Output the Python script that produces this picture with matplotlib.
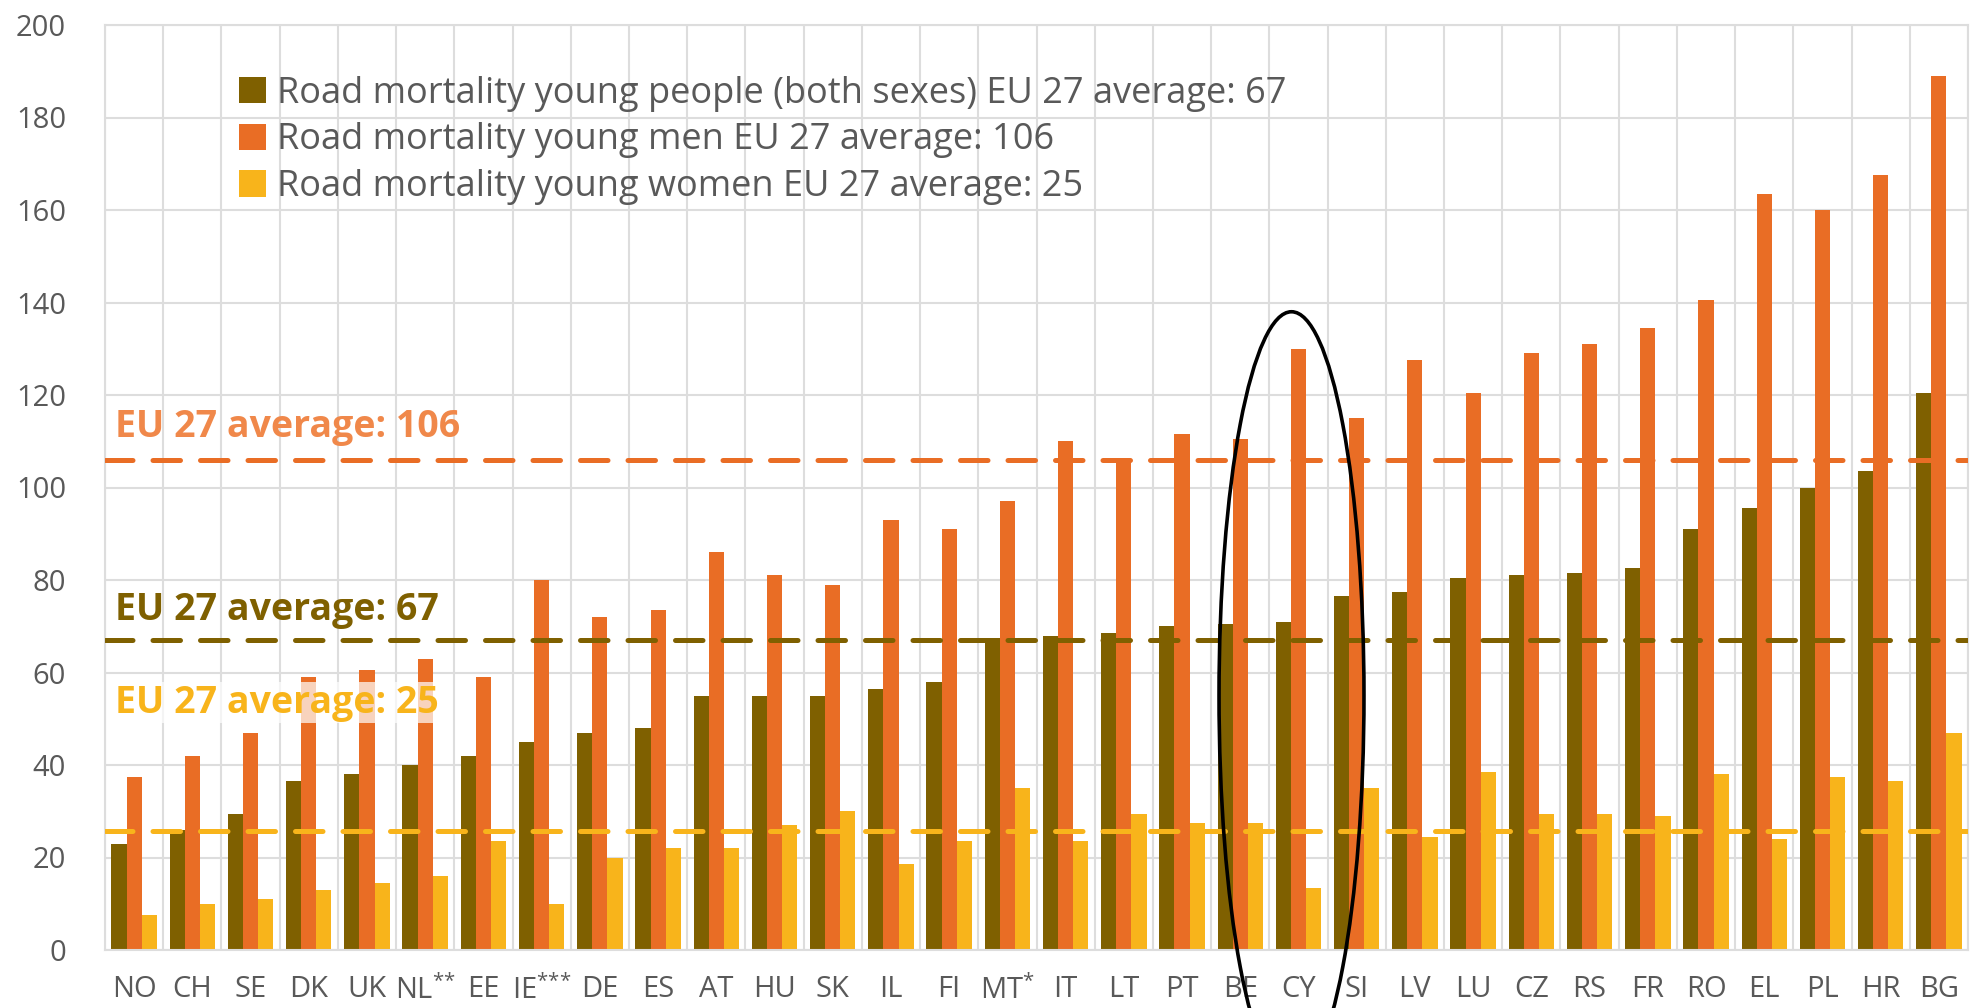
import matplotlib.pyplot as plt
from matplotlib.patches import Ellipse
import numpy as np

countries = ["NO", "CH", "SE", "DK", "UK", "NL$^{{*}{*}}$", "EE", "IE$^{{*}{*}{*}}$", "DE", "ES", "AT", "HU", "SK", "IL",
             "FI", "MT$^{{*}}$", "IT", "LT", "PT", "BE", "CY", "SI", "LV", "LU", "CZ", "RS", "FR", "RO", "EL",
             "PL", "HR", "BG"]
both_sexes = [23, 26, 29.5, 36.5, 38, 40, 42, 45, 47, 48, 55, 55, 55, 56.5, 58, 67.5, 68, 68.5, 70,
              70.5, 71, 76.5, 77.5, 80.5, 81, 81.5, 82.5, 91, 95.5, 100, 103.5, 120.5]
men = [37.5, 42, 47, 59, 60.5, 63, 59, 80, 72, 73.5, 86, 81, 79, 93, 91, 97, 110, 106, 111.5,
       110.5, 130, 115, 127.5, 120.5, 129, 131, 134.5, 140.5, 163.5, 160, 167.5, 189]
women = [7.5, 10, 11, 13, 14.5, 16, 23.5, 10, 20, 22, 22, 27, 30, 18.5, 23.5, 35, 23.5, 29.5, 27.5,
         27.5, 13.5, 35, 24.5, 38.5, 29.5, 29.5, 29, 38, 24, 37.5, 36.5, 47]
avg_both, avg_men, avg_women = 67, 106, 25

c_dark = "#7F6000"
c_orange = "#E96D25"
c_yellow = "#F8B41B"
grey = "#595959"

plt.rcParams['font.family'] = ['Open Sans', 'DejaVu Sans']
plt.rcParams['mathtext.fontset'] = 'custom'
plt.rcParams['mathtext.rm'] = 'Open Sans'
plt.rcParams['mathtext.default'] = 'rm'

fig = plt.figure(figsize=(19.75, 10.08), dpi=100)
ax = fig.add_axes([105/1975, 1-950/1008, (1968-105)/1975, (950-25)/1008])

x = np.arange(len(countries))
w = 0.26
ax.bar(x - w, both_sexes, w, color=c_dark, zorder=2,
       label="Road mortality young people (both sexes) EU 27 average: %d" % avg_both)
ax.bar(x, men, w, color=c_orange, zorder=2,
       label="Road mortality young men EU 27 average: %d" % avg_men)
ax.bar(x + w, women, w, color=c_yellow, zorder=2,
       label="Road mortality young women EU 27 average: %d" % avg_women)

# average lines on top of the bars
for val, col in [(avg_men, c_orange), (avg_both, c_dark), (avg_women + 0.7, c_yellow)]:
    ax.axhline(val, color=col, lw=3.6, dashes=(5.5, 4), zorder=3, dash_capstyle='round')

ax.text(-0.33, 113, "EU 27 average: %d" % avg_men, color="#F0884A", fontsize=27,
        fontweight='bold', va='center', zorder=4)
ax.text(-0.33, 73.5, "EU 27 average: %d" % avg_both, color=c_dark, fontsize=27,
        fontweight='bold', va='center', zorder=4)
ax.text(-0.33, 53.5, "EU 27 average: %d" % avg_women, color=c_yellow, fontsize=27,
        fontweight='bold', va='center', zorder=4,
        bbox=dict(facecolor='white', edgecolor='none', alpha=0.7, pad=1))

# highlight CY
cy = countries.index("CY")
ax.add_patch(Ellipse((cy - 0.12, 55), 2.49, 166, fill=False, ec='black', lw=2.6,
                     zorder=5, clip_on=False))

ax.set_xlim(-0.5, len(countries) - 0.5)
ax.set_ylim(0, 200)
ax.set_yticks(np.arange(0, 201, 20))
ax.set_xticks(x)
ax.set_xticklabels(countries)
ax.set_xticks(np.arange(-0.5, len(countries), 1), minor=True)
ax.grid(axis='y', which='major', color='#DDDDDD', lw=1.5, zorder=0)
ax.grid(axis='x', which='minor', color='#DDDDDD', lw=1.5, zorder=0)
ax.tick_params(axis='both', which='both', length=0, labelsize=21, colors=grey)
ax.tick_params(axis='y', pad=28)
ax.tick_params(axis='x', pad=18)
for s in ax.spines.values():
    s.set_color('#DDDDDD')
    s.set_linewidth(1.5)

ax.legend(loc='upper left', bbox_to_anchor=(0.064, 0.961), frameon=False, fontsize=26,
          labelcolor=grey, handlelength=0.75, handleheight=0.75, handletextpad=0.3,
          labelspacing=0.3, borderaxespad=0)

fig.savefig("out.png", dpi=100)
